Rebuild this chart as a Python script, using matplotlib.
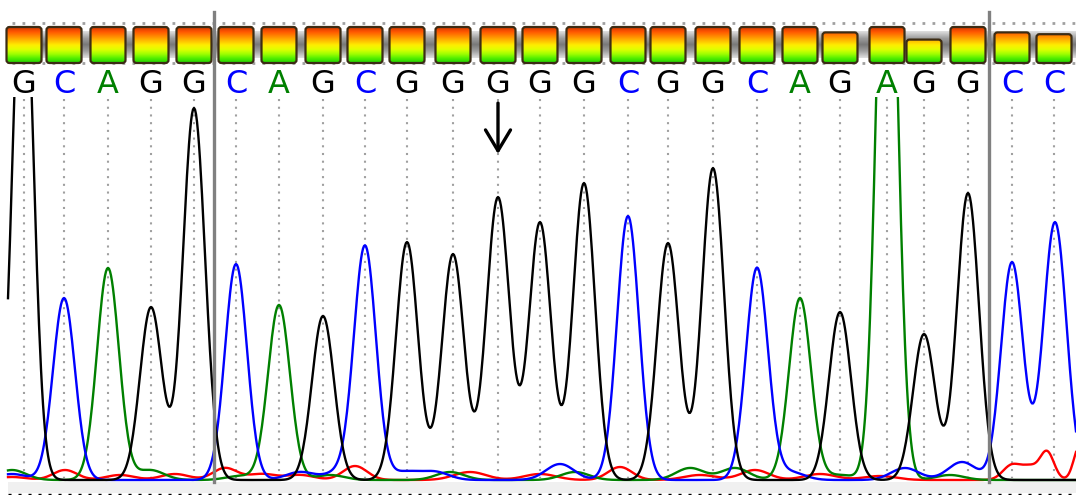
import numpy as np
import matplotlib
matplotlib.use("Agg")
import matplotlib.pyplot as plt
from matplotlib.colors import LinearSegmentedColormap
from matplotlib.patches import FancyBboxPatch, Rectangle

# ---------------- data ----------------
bases = list("GCAGG" "CAGCGGGGGCGGCAGAGG" "CC")
base_pos = [24, 64, 108, 151, 194, 236, 279, 323, 365, 407, 453, 498, 540,
            584, 628, 668, 713, 757, 800, 840, 887, 924, 968, 1012, 1054]
quality = [40, 40, 40, 40, 40, 40, 40, 40, 40, 40, 40, 40, 40,
           40, 40, 40, 40, 40, 40, 34, 40, 26, 40, 34, 32]
breaks_after = [4, 22]      # solid separator lines
arrow_base = 11             # base marked by the arrow

# main peaks per channel (scan position, signal, width)
g_pos = [23, 151, 194, 323, 407, 453, 498, 540, 584, 668, 713, 840, 924, 968]
g_amp = [560, 173, 372, 164, 238, 226, 283, 258, 297, 237, 312, 168, 146, 287]
g_wid = [10, 11, 11, 11, 11, 11, 11.5, 11, 11, 11, 11, 11, 11, 11]

c_pos = [64, 236, 365, 628, 757, 1012, 1055]
c_amp = [182, 216, 233, 264, 212, 218, 258]
c_wid = [11, 11, 11, 11, 11, 11, 11.5]

a_pos = [108, 279, 800, 887]
a_amp = [212, 175, 182, 685]
a_wid = [11, 11, 11, 10]

# low background signal (position, signal, width)
t_bg_pos = [12, 65, 120, 175, 225, 262, 300, 355, 470, 540, 620, 700, 755,
            820, 880, 1012, 1030, 1047, 1080]
t_bg_amp = [3, 10, 5, 6, 12, 6, 5, 14, 8, 6, 13, 5, 10, 6, 4, 15, 12, 28, 35]
t_bg_wid = [14, 12, 14, 14, 12, 14, 14, 12, 16, 16, 12, 16, 14, 16, 16,
            9, 8, 7, 6]
c_bg_pos = [12, 300, 340, 405, 435, 560, 790, 905, 962]
c_bg_amp = [6, 8, 8, 8, 8, 16, 8, 12, 18]
c_bg_wid = [14, 14, 14, 14, 14, 14, 14, 14, 14]
a_bg_pos = [12, 150, 240, 330, 450, 575, 690, 735, 840, 950]
a_bg_amp = [10, 10, 4, 5, 8, 8, 12, 12, 5, 5]
a_bg_wid = [14, 14, 14, 14, 14, 14, 14, 14, 14, 14]


def channel(x, pos, amp, wid, bg_pos=(), bg_amp=(), bg_wid=()):
    pos = np.asarray(pos, float)
    amp = np.asarray(amp, float)
    wid = np.asarray(wid, float)
    y = np.zeros_like(x)
    if len(pos):
        # amplitudes so that the summed curve hits the read peak heights
        M = np.exp(-(pos[:, None] - pos[None, :]) ** 2 / (2 * wid[None, :] ** 2))
        a = np.linalg.solve(M, amp)
        y += (a[None, :] * np.exp(-(x[:, None] - pos[None, :]) ** 2
                                  / (2 * wid[None, :] ** 2))).sum(axis=1)
    for p, h, w in zip(bg_pos, bg_amp, bg_wid):
        y += h * np.exp(-(x - p) ** 2 / (2 * w ** 2))
    return y


W, H = 1076, 495
x = np.arange(8, W + 1, 1.0)
sig_g = channel(x, g_pos, g_amp, g_wid)
sig_c = channel(x, c_pos, c_amp, c_wid, c_bg_pos, c_bg_amp, c_bg_wid)
sig_a = channel(x, a_pos, a_amp, a_wid, a_bg_pos, a_bg_amp, a_bg_wid)
sig_t = channel(x, [], [], [], t_bg_pos, t_bg_amp, t_bg_wid)

base_colors = {"G": "#000000", "C": "#0000ff", "A": "#008000", "T": "#ff0000"}

fig = plt.figure(figsize=(W / 100, H / 100), dpi=100)

# ---------------- header / background layer (pixel coords) ----------------
ax = fig.add_axes([0, 0, 1, 1])
ax.set_xlim(0, W)
ax.set_ylim(H, 0)
ax.axis("off")

# dotted rows at top and under the bars
ax.plot([12, W], [23, 23], color="#a0a0a0", lw=2.0, ls=(0, (1, 2.6)), zorder=1)
ax.plot([12, W], [63, 63], color="#a0a0a0", lw=2.0, ls=(0, (1, 2.6)), zorder=1)

# grey shadow band behind the quality bars
band_cmap = LinearSegmentedColormap.from_list(
    "band", ["#e0e0e0", "#a0a0a0", "#787878", "#a0a0a0", "#e0e0e0"])
ax.imshow(np.linspace(0, 1, 64)[:, None], cmap=band_cmap, aspect="auto",
          extent=(8, W, 58, 31), origin="upper", zorder=2)

# quality bars with vertical gradient
bar_cmap = LinearSegmentedColormap.from_list(
    "qv", ["#d03800", "#ff5500", "#ff8800", "#ffbb00", "#ffee00",
           "#e0ff00", "#a0ff00", "#50ee00", "#20d000"])
grad = np.linspace(0, 1, 128)[:, None]
bar_w, bar_bot, bar_full = 35, 63, 36
for p, q in zip(base_pos, quality):
    h = bar_full * q / 40.0
    patch = FancyBboxPatch((p - bar_w / 2, bar_bot - h), bar_w, h,
                           boxstyle="round,pad=0,rounding_size=3",
                           facecolor="none", edgecolor="#3c2c14", lw=1.6,
                           zorder=4)
    ax.add_patch(patch)
    im = ax.imshow(grad, cmap=bar_cmap, aspect="auto", origin="upper",
                   extent=(p - bar_w / 2, p + bar_w / 2, bar_bot, bar_bot - bar_full),
                   zorder=3)
    im.set_clip_path(patch)

# base letters
for p, b in zip(base_pos, bases):
    ax.text(p, 93, b, color=base_colors[b], fontsize=23, ha="center",
            va="baseline", family="DejaVu Sans", zorder=5)

# dotted guides at each base call
for p in base_pos:
    ax.plot([p, p], [99, 478], color="#a0a0a0", lw=1.5, ls=(0, (1, 2.7)),
            zorder=1)

# bottom grey strip and dashed rule
ax.add_patch(Rectangle((8, 482), W - 8, 11, facecolor="#f0f0f0",
                       edgecolor="none", zorder=1))
ax.plot([8, W], [494, 494], color="#000000", lw=1.0, ls=(0, (2.2, 5)), zorder=1)
ax.set_xlim(0, W)
ax.set_ylim(H, 0)

# ---------------- traces ----------------
top_px, bot_px = 97, 483
axt = fig.add_axes([0, (H - bot_px) / H, 1, (bot_px - top_px) / H])
axt.set_xlim(0, W)
axt.set_ylim(-3, bot_px - top_px - 3)
axt.axis("off")
axt.patch.set_alpha(0)
axt.plot(x, sig_t, color=base_colors["T"], lw=1.7)
axt.plot(x, sig_a, color=base_colors["A"], lw=1.7)
axt.plot(x, sig_c, color=base_colors["C"], lw=1.7)
axt.plot(x, sig_g, color=base_colors["G"], lw=1.7)

# ---------------- overlay: separators and arrow ----------------
axo = fig.add_axes([0, 0, 1, 1])
axo.set_xlim(0, W)
axo.set_ylim(H, 0)
axo.axis("off")
axo.patch.set_alpha(0)
for i in breaks_after:
    xs = (base_pos[i] + base_pos[i + 1]) / 2 - 1.5
    axo.plot([xs, xs], [12, 482], color="#808080", lw=2.4)

ap = base_pos[arrow_base]
axo.annotate("", xy=(ap, 154), xytext=(ap, 103),
             arrowprops=dict(arrowstyle="->,head_length=0.75,head_width=0.45",
                             lw=2.4, color="#000000", mutation_scale=20,
                             shrinkA=0, shrinkB=0))

fig.savefig("out.png", dpi=100)
